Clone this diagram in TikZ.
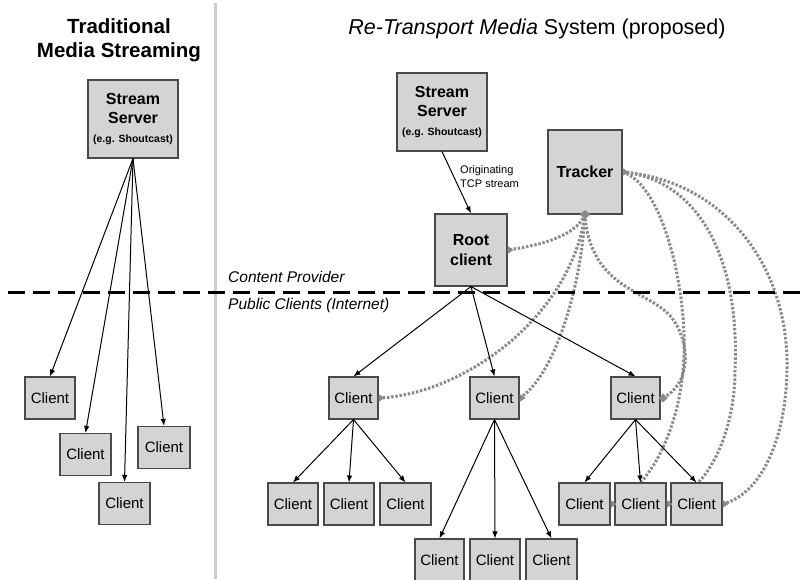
\documentclass[tikz,border=0pt]{standalone}
\usepackage{fontspec}
\setmainfont{Liberation Sans}
\usetikzlibrary{arrows.meta}
\definecolor{boxfill}{HTML}{D4D4D4}
\definecolor{boxline}{HTML}{4A4A4A}
\definecolor{dotc}{HTML}{8A8A8A}
\definecolor{sepc}{HTML}{CCCCCC}
\pgfdeclarelayer{bgzero}
\pgfdeclarelayer{curves}
\pgfsetlayers{bgzero,curves,main}
\begin{document}
\begin{tikzpicture}[x=1pt,y=-1pt,
 box/.style={draw=boxline,fill=boxfill,line width=1.1pt,inner sep=0pt,align=center},
 client/.style={box,minimum width=50pt,minimum height=42pt,font=\fontsize{15}{17}\selectfont},
 srv/.style={box,minimum width=90pt,minimum height=78pt,font=\fontsize{16}{19}\selectfont\bfseries},
 arr/.style={-{Latex[length=7pt,width=5.5pt]},line width=1pt,black},
 dots/.style={dotc,line width=3pt,dash pattern=on 2.4pt off 1.8pt},
 mk/.style={fill=dotc,draw=none},
 lbl/.style={inner sep=0pt},
]
\begin{pgfonlayer}{bgzero}
\fill[white] (0,0) rectangle (804,579);
\end{pgfonlayer}
\useasboundingbox (0,0) rectangle (804,579);

% separators
\draw[sepc,line width=3pt] (215,3) -- (215,579);
\draw[black,line width=3pt,dash pattern=on 17pt off 8pt] (8,292) -- (804,292);

% titles
\node[lbl,align=center,font=\fontsize{20.5}{24}\selectfont\bfseries] (t1) at (119,40) {Traditional\\Media Streaming};
\node[lbl,font=\fontsize{21.5}{25}\selectfont] (t2) at (537,29) {\textit{Re-Transport Media} System (proposed)};
\node[lbl,anchor=west,font=\fontsize{15.5}{18}\selectfont\itshape] (cp) at (228,277) {Content Provider};
\node[lbl,anchor=west,font=\fontsize{15.5}{18}\selectfont\itshape] (pc) at (228,305) {Public Clients (Internet)};

% left: traditional
\node[srv] (ssL) at (133,119) {Stream\\Server\\{\fontsize{10.5}{12}\selectfont (e.g. Shoutcast)}};
\node[client] (l1) at (50,398) {Client};
\node[client,minimum width=51pt] (l2) at (85.5,454.5) {Client};
\node[client,minimum width=51pt] (l3) at (124.5,503.5) {Client};
\node[client,minimum width=52pt] (l4) at (164,447.5) {Client};
\draw[arr] (ssL.south) -- (l1.north);
\draw[arr] (ssL.south) -- (l2.north);
\draw[arr] (ssL.south) -- (l3.north);
\draw[arr] (ssL.south) -- (l4.north);

% right: proposed
\node[srv] (ssR) at (442,112) {Stream\\Server\\{\fontsize{10.5}{12}\selectfont (e.g. Shoutcast)}};
\node[srv,minimum width=72pt,minimum height=72pt,font=\fontsize{16}{20}\selectfont\bfseries] (root) at (471,250) {Root\\client};
\node[srv,minimum width=74pt,minimum height=84pt] (trk) at (585,172) {Tracker};
\node[lbl,anchor=west,align=left,font=\fontsize{11}{14}\selectfont] (orig) at (460,177) {Originating\\TCP stream};
\draw[arr] (ssR.south) -- (root.north);

\node[client,minimum width=49pt] (cA) at (353.5,398) {Client};
\node[client,minimum width=49pt] (cB) at (494.5,398) {Client};
\node[client,minimum width=49pt] (cC) at (635.5,398) {Client};
\draw[arr] (root.south) -- (cA.north);
\draw[arr] (root.south) -- (cB.north);
\draw[arr] (root.south) -- (cC.north);

\node[client] (a1) at (293,504) {Client};
\node[client] (a2) at (349,504) {Client};
\node[client,minimum width=51pt] (a3) at (405.5,504) {Client};
\node[client,minimum width=51pt] (c1) at (584.5,504) {Client};
\node[client,minimum width=51pt] (c2) at (640.5,504) {Client};
\node[client,minimum width=51pt] (c3) at (696.5,504) {Client};
\node[client,minimum width=49pt] (b1) at (439.5,560) {Client};
\node[client] (b2) at (495,560) {Client};
\node[client,minimum width=51pt] (b3) at (551.5,560) {Client};

\draw[arr] (cA.south) -- (a1.north);
\draw[arr] (cA.south) -- (a2.north);
\draw[arr] (cA.south) -- (a3.north);
\draw[arr] (cB.south) -- (b1.north);
\draw[arr] (cB.south) -- (b2.north);
\draw[arr] (cB.south) -- (b3.north);
\draw[arr] (cC.south) -- (c1.north);
\draw[arr] (cC.south) -- (c2.north);
\draw[arr] (cC.south) -- (c3.north);

% tracker connections (dotted)
\begin{pgfonlayer}{curves}
\draw[dots] (trk.south) .. controls (575,238) and (535,246) .. (root.east);
\draw[dots] (trk.south) .. controls (570,320) and (460,395) .. (cA.east);
\draw[dots] (trk.south) .. controls (580,300) and (550,380) .. (cB.east);
\draw[dots] (trk.south) .. controls (590,290) and (650,290) .. (672,318) .. controls (692,345) and (690,385) .. ([xshift=2pt]cC.east);
\draw[dots] (trk.east) .. controls (665,185) and (690,300) .. (683,370) .. controls (678,430) and (650,490) .. (c1.east);
\draw[dots] (trk.east) .. controls (700,180) and (740,260) .. (735,370) .. controls (735,430) and (710,490) .. (c2.east);
\draw[dots] (trk.east) .. controls (720,180) and (785,260) .. (787,360) .. controls (788,440) and (760,495) .. (c3.east);
\end{pgfonlayer}

% end markers
\fill[mk] ([xshift=-5.5pt]trk.south) -- ([yshift=4.5pt]trk.south) -- ([xshift=5.5pt]trk.south) -- ([yshift=-4.5pt]trk.south) -- cycle;
\foreach \n in {trk,root,cA,cB,c1,c2,c3}{
  \fill[mk] ([yshift=4pt]\n.east) -- ([xshift=6pt]\n.east) -- ([yshift=-4pt]\n.east) -- cycle;
}
\fill[mk] ([xshift=-2pt]cC.east) -- ([xshift=2.5pt,yshift=4.5pt]cC.east) -- ([xshift=7pt]cC.east) -- ([xshift=2.5pt,yshift=-4.5pt]cC.east) -- cycle;
\end{tikzpicture}
\end{document}
